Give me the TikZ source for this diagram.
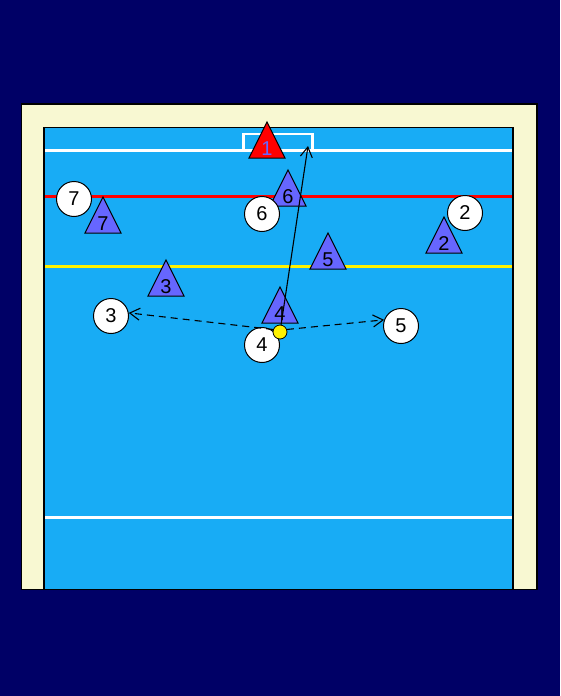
\documentclass[tikz,border=0pt]{standalone}
\usepackage{fontspec}
\setmainfont{Liberation Sans}
\usetikzlibrary{arrows.meta}
\definecolor{poolnavy}{HTML}{000066}
\definecolor{poolcream}{HTML}{F8F8D2}
\definecolor{poolwater}{HTML}{18ACF5}
\definecolor{defblue}{HTML}{6666FF}

\tikzset{
  attacker/.style={circle, draw=black, line width=1pt, fill=white, minimum size=35pt,
                   inner sep=0pt, font=\fontsize{20}{24}\selectfont},
  defender/.style={draw=black, line width=1pt, fill=defblue},
  keeper/.style={draw=black, line width=1pt, fill=red},
  deflabel/.style={anchor=base, inner sep=0pt, font=\fontsize{20}{24}\selectfont},
  ballstyle/.style={circle, draw=black, line width=0.8pt, fill=yellow, minimum size=14pt, inner sep=0pt},
  swim/.style={line width=1.1pt, -{Straight Barb[length=10pt,width=12pt]}},
  pass/.style={swim, dash pattern=on 7pt off 5pt},
  poolline/.style={line width=3pt}
}

% triangle for a defender: style, name, x, apex y, number
\newcommand{\defender}[5]{%
  \filldraw[#1] (#3,#4) -- ++(18,36) -- ++(-36,0) -- cycle;
  \node[deflabel] (#2) at (#3,#4+33) {#5};
}

\begin{document}
\begin{tikzpicture}[x=1pt, y=-1pt]
  % frame and pool
  \fill[poolnavy] (0,0) rectangle (560,696);
  \filldraw[fill=poolcream, draw=black, line width=1.5pt] (21.5,104) rectangle (537,589.5);
  \filldraw[fill=poolwater, draw=black, line width=1.5pt] (44,127.5) rectangle (513,589.5);

  % lines
  \draw[white, line width=2.5pt] (243.5,150) -- (243.5,134) -- (312.5,134) -- (312.5,150);
  \draw[white,  poolline] (45,150) -- (512,150);
  \draw[red,    poolline] (45,196) -- (512,196);
  \draw[yellow, poolline] (45,266) -- (512,266);
  \draw[white,  poolline] (45,517) -- (512,517);

  % defenders
  \defender{keeper}{d1}{267}{122}{\textcolor{defblue}{1}}
  \defender{defender}{d6}{288}{170}{6}
  \defender{defender}{d7}{103}{197}{7}
  \defender{defender}{d2}{444}{217}{2}
  \defender{defender}{d5}{328}{233}{5}
  \defender{defender}{d3}{166}{260}{3}
  \defender{defender}{d4}{280}{287}{4}

  % attackers
  \node[attacker] (a7) at (74,199)  {7};
  \node[attacker] (a6) at (262,214) {6};
  \node[attacker] (a2) at (465,213) {2};
  \node[attacker] (a3) at (111,316) {3};
  \node[attacker] (a4) at (262,345) {4};
  \node[attacker] (a5) at (401,326) {5};

  % ball and moves
  \coordinate (shot) at (308,146);
  \draw[swim] (280,332) -- (shot);
  \node[ballstyle] (ball) at (280,332) {};
  \draw[pass] (ball.160) -- (a3.10);
  \draw[pass] (ball.20) -- (a5.160);
\end{tikzpicture}
\end{document}
